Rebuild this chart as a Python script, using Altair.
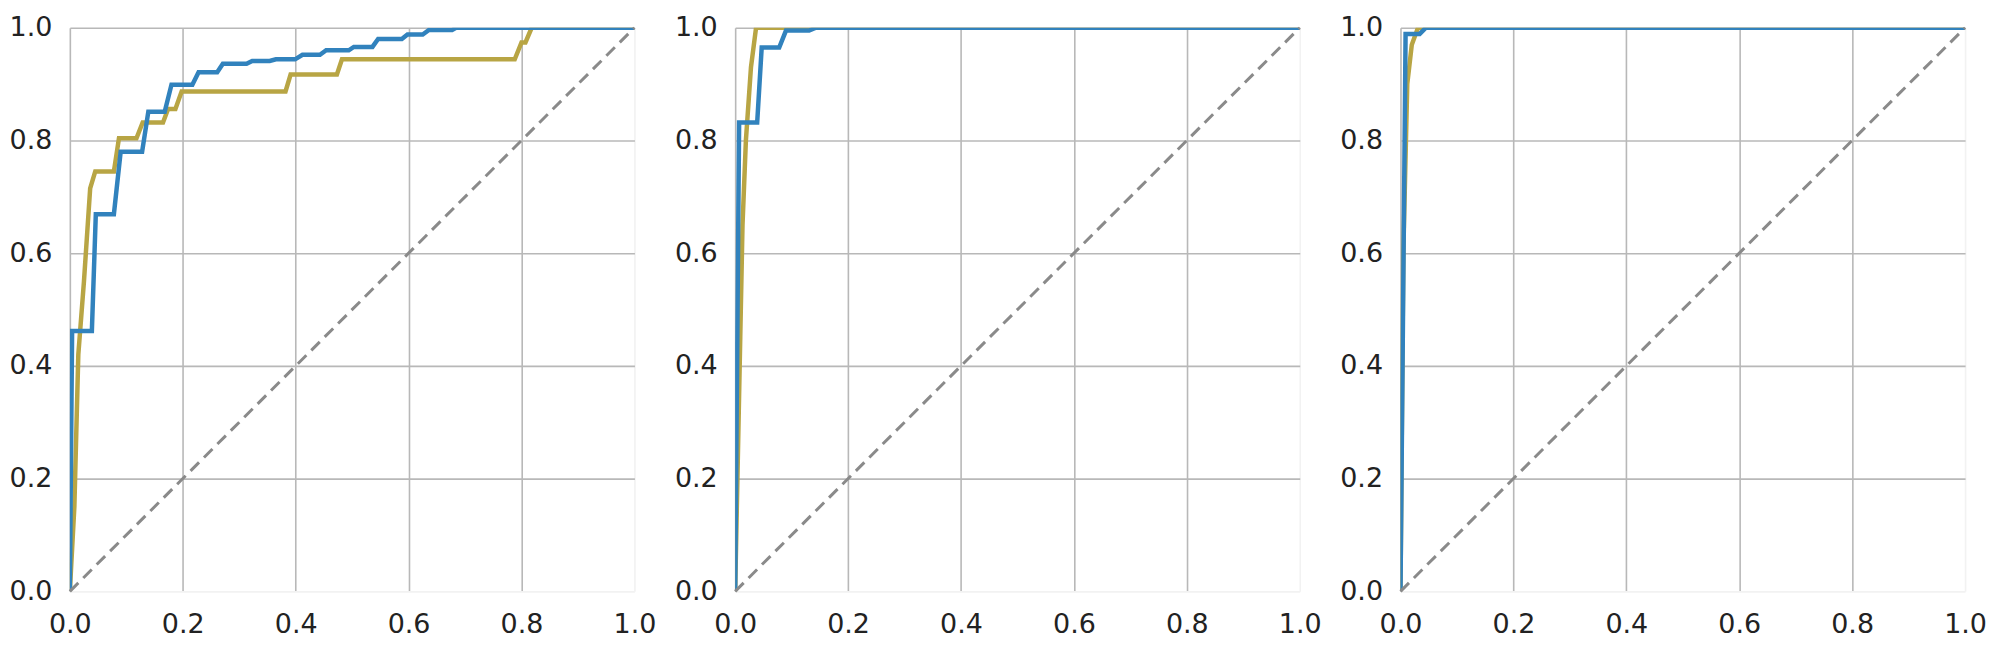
import altair as alt
import pandas as pd

# ---- data (FPR, TPR) ----
p1_blue_fpr = [0, 0.004, 0.039, 0.046, 0.078, 0.09, 0.128, 0.139, 0.168, 0.18, 0.217, 0.228, 0.261, 0.271,
               0.313, 0.323, 0.354, 0.365, 0.399, 0.412, 0.443, 0.454, 0.494, 0.503, 0.536, 0.546, 0.588,
               0.598, 0.625, 0.636, 0.677, 0.684, 1.0]
p1_blue_tpr = [0, 0.462, 0.462, 0.669, 0.669, 0.78, 0.78, 0.851, 0.851, 0.899, 0.899, 0.921, 0.921, 0.936,
               0.936, 0.941, 0.941, 0.944, 0.944, 0.952, 0.952, 0.96, 0.96, 0.966, 0.966, 0.98, 0.98,
               0.988, 0.988, 0.996, 0.996, 1.0, 1.0]
p1_gold_fpr = [0, 0.008, 0.015, 0.025, 0.036, 0.045, 0.078, 0.087, 0.118, 0.129, 0.165, 0.174, 0.187, 0.198,
               0.382, 0.391, 0.473, 0.482, 0.788, 0.80, 0.807, 0.818, 1.0]
p1_gold_tpr = [0, 0.15, 0.42, 0.55, 0.715, 0.745, 0.745, 0.804, 0.804, 0.832, 0.832, 0.856, 0.856, 0.887,
               0.887, 0.917, 0.917, 0.944, 0.944, 0.974, 0.974, 1.0, 1.0]

p2_blue_fpr = [0, 0.007, 0.039, 0.047, 0.078, 0.09, 0.131, 0.143, 1.0]
p2_blue_tpr = [0, 0.832, 0.832, 0.965, 0.965, 0.995, 0.995, 1.0, 1.0]
p2_gold_fpr = [0, 0.004, 0.009, 0.013, 0.019, 0.028, 0.037, 1.0]
p2_gold_tpr = [0, 0.2, 0.45, 0.65, 0.8, 0.93, 1.0, 1.0]

p3_blue_fpr = [0, 0.009, 0.034, 0.045, 1.0]
p3_blue_tpr = [0, 0.989, 0.989, 1.0, 1.0]
p3_gold_fpr = [0, 0.005, 0.012, 0.02, 0.031, 1.0]
p3_gold_tpr = [0, 0.6, 0.9, 0.97, 1.0, 1.0]

diag = [0.0, 1.0]
tick_values = [0.0, 0.2, 0.4, 0.6, 0.8, 1.0]

BLUE = "#3182bd"
GOLD = "#b8a544"
FONT = "DejaVu Sans"


def frame(series, fpr, tpr):
    return pd.DataFrame({"series": series, "fpr": fpr, "tpr": tpr, "i": list(range(len(fpr)))})


def axis(hide_value, pad):
    return alt.Axis(
        values=tick_values, format=".1f", title=None,
        grid=True,
        gridColor={"condition": {"test": f"datum.value === {hide_value}", "value": "#f2f2f2"},
                   "value": "#b8b8b8"},
        gridWidth=1.6,
        domain=False, ticks=False, tickSize=0,
        labelFont=FONT, labelFontSize=27, labelColor="#222222",
        labelPadding=pad, labelFlush=False,
    )


def panel(bf, bt, gf, gt):
    df = pd.concat([frame("gold", gf, gt), frame("blue", bf, bt)], ignore_index=True)
    x = alt.X("fpr:Q", scale=alt.Scale(domain=[0, 1], nice=False), axis=axis(1, 20))
    y = alt.Y("tpr:Q", scale=alt.Scale(domain=[0, 1], nice=False), axis=axis(0, 18))
    lines = alt.Chart(df).mark_line(strokeWidth=4.5, clip=True).encode(
        x=x, y=y,
        color=alt.Color("series:N", scale=alt.Scale(domain=["gold", "blue"], range=[GOLD, BLUE]), legend=None),
        order=alt.Order("i:Q"),
        detail="series:N",
    )
    ddf = pd.DataFrame({"fpr": diag, "tpr": diag})
    dline = alt.Chart(ddf).mark_line(strokeDash=[12, 7], strokeWidth=3, color="#8a8a8a").encode(
        x="fpr:Q", y="tpr:Q"
    )
    return alt.layer(lines, dline).properties(width=566, height=565)


chart = alt.hconcat(
    panel(p1_blue_fpr, p1_blue_tpr, p1_gold_fpr, p1_gold_tpr),
    panel(p2_blue_fpr, p2_blue_tpr, p2_gold_fpr, p2_gold_tpr),
    panel(p3_blue_fpr, p3_blue_tpr, p3_gold_fpr, p3_gold_tpr),
    spacing=101, bounds="flush",
).properties(
    padding={"left": 0, "top": 4, "right": 5, "bottom": 5}
).configure_view(stroke="transparent")

chart.save("out.html", embed_options={"renderer": "svg", "actions": False})
